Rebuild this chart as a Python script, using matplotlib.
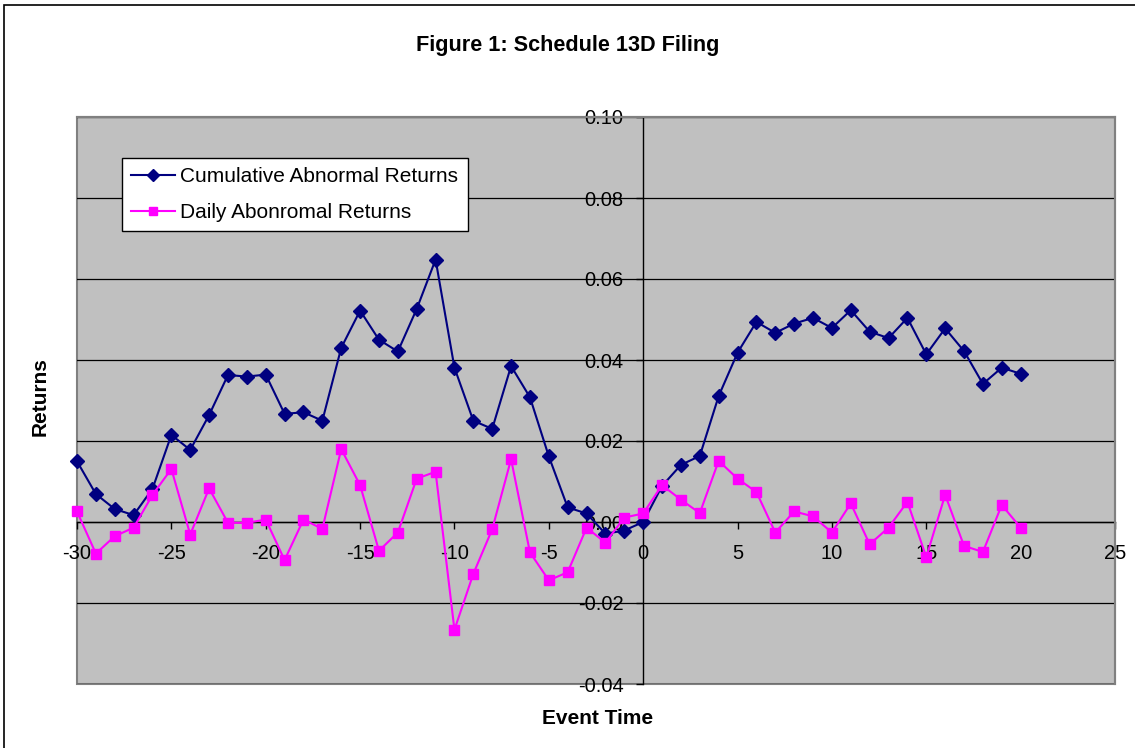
import matplotlib.pyplot as plt
from matplotlib.patches import Rectangle

event_time = list(range(-30, 21))

# cumulative abnormal returns
car = [0.0150, 0.0069, 0.0032, 0.0017, 0.0082, 0.0215, 0.0178, 0.0264, 0.0363, 0.0359,
       0.0364, 0.0267, 0.0271, 0.0250, 0.0430, 0.0522, 0.0450, 0.0421, 0.0526, 0.0648,
       0.0381, 0.0250, 0.0230, 0.0385, 0.0308, 0.0162, 0.0036, 0.0021, -0.0029, -0.0021,
       0.0000, 0.0089, 0.0141, 0.0163, 0.0311, 0.0418, 0.0494, 0.0467, 0.0490, 0.0504,
       0.0479, 0.0523, 0.0470, 0.0454, 0.0504, 0.0414, 0.0478, 0.0422, 0.0341, 0.0381,
       0.0366]

# daily abnormal returns
daily = [0.0026, -0.0078, -0.0035, -0.0014, 0.0067, 0.0131, -0.0031, 0.0083, -0.0002, -0.0002,
         0.0006, -0.0094, 0.0006, -0.0017, 0.0180, 0.0091, -0.0071, -0.0026, 0.0107, 0.0124,
         -0.0266, -0.0128, -0.0018, 0.0155, -0.0075, -0.0144, -0.0124, -0.0014, -0.0051, 0.0011,
         0.0021, 0.0091, 0.0055, 0.0022, 0.0151, 0.0107, 0.0074, -0.0026, 0.0026, 0.0014,
         -0.0026, 0.0046, -0.0055, -0.0014, 0.0050, -0.0087, 0.0067, -0.0059, -0.0074, 0.0042,
         -0.0014]

x_ticks = [-30, -25, -20, -15, -10, -5, 0, 5, 10, 15, 20, 25]
y_ticks = [-0.04, -0.02, 0.00, 0.02, 0.04, 0.06, 0.08, 0.10]

plt.rcParams['font.family'] = ['Liberation Sans', 'DejaVu Sans']
plt.rcParams['axes.unicode_minus'] = False

W, H = 1135, 748
fig = plt.figure(figsize=(W / 100, H / 100), dpi=100)

# outer chart border (runs off the right and bottom edges)
fig.add_artist(Rectangle((4 / W, -0.05), 1.1, 1 - 5 / H + 0.05, transform=fig.transFigure,
                         fill=False, edgecolor='black', linewidth=1.2))

left, right, top, bottom = 77, 1115, 117, 684
ax = fig.add_axes([left / W, 1 - bottom / H, (right - left) / W, (bottom - top) / H])
ax.set_facecolor('#C0C0C0')

ax.set_xlim(-30, 25)
ax.set_ylim(-0.04, 0.10)
ax.set_xticks(x_ticks)
ax.set_yticks(y_ticks)
ax.set_yticklabels([f'{v:.2f}' for v in y_ticks])

for y in y_ticks:
    ax.axhline(y, color='black', linewidth=0.9, zorder=1)

# plot-area frame in grey, axis lines through zero in black
for s in ['top', 'right']:
    ax.spines[s].set_color('#808080')
    ax.spines[s].set_linewidth(1.5)
ax.add_patch(Rectangle((0, 0), 1, 1, transform=ax.transAxes, fill=False,
                       edgecolor='#808080', linewidth=1.5, zorder=0.5, clip_on=False))
ax.spines['left'].set_position(('data', 0))
ax.spines['bottom'].set_position(('data', 0))
ax.spines['left'].set_linewidth(1.0)
ax.spines['bottom'].set_linewidth(1.0)
ax.spines['left'].set_zorder(1.5)
ax.spines['bottom'].set_zorder(1.5)

ax.tick_params(axis='both', direction='out', length=5, width=1, labelsize=14.5, colors='black')
ax.tick_params(axis='x', pad=11)
ax.tick_params(axis='y', pad=9)

ax.plot(event_time, car, color='#000080', linewidth=1.5, marker='D', markersize=7,
        label='Cumulative Abnormal Returns', zorder=3, clip_on=False)
ax.plot(event_time, daily, color='#FF00FF', linewidth=1.5, marker='s', markersize=7,
        label='Daily Abonromal Returns', zorder=3, clip_on=False)

leg = ax.legend(loc='upper left', bbox_to_anchor=((122 - left) / (right - left), 1 - (158 - top) / (bottom - top)),
                fontsize=15, frameon=True, fancybox=False, edgecolor='black', facecolor='white',
                framealpha=1, borderpad=0.45, handlelength=2.1, labelspacing=0.8, handletextpad=0.25,
                borderaxespad=0, markerscale=0.85)
leg.get_frame().set_linewidth(1.0)

fig.text(0.5, 1 - 45 / H, 'Figure 1: Schedule 13D Filing', ha='center', va='center',
         fontsize=15.6, fontweight='bold')
fig.text(40 / W, 1 - 397 / H, 'Returns', rotation=90, ha='center', va='center',
         fontsize=15, fontweight='bold')
fig.text(598 / W, 1 - 718 / H, 'Event Time', ha='center', va='center',
         fontsize=15, fontweight='bold')

fig.savefig('out.png', dpi=100, facecolor='white')
